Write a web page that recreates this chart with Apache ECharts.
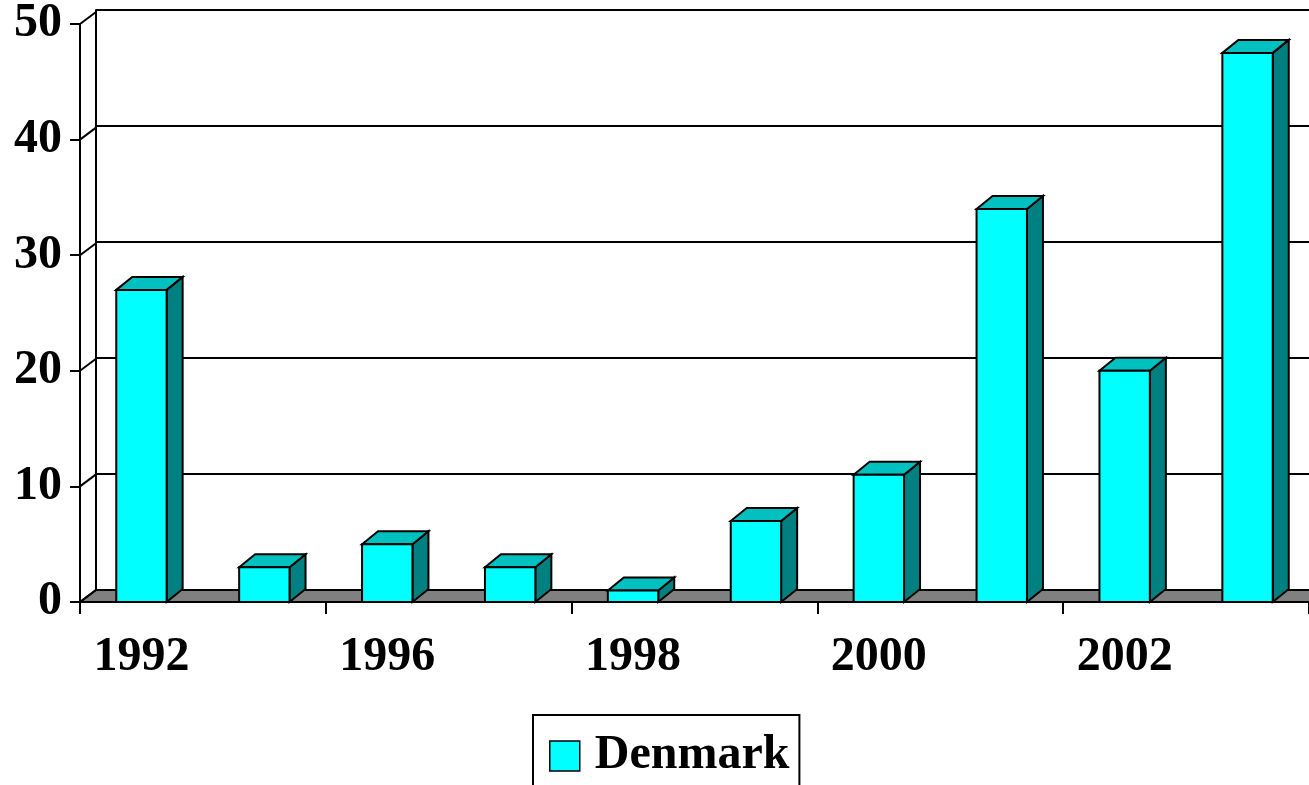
<!DOCTYPE html>
<html>
<head>
<meta charset="utf-8">
<script src="https://cdn.jsdelivr.net/npm/echarts@6/dist/echarts.min.js"></script>
<style>
html,body{margin:0;padding:0;background:#fff;}
#chart{width:1309px;height:785px;}
</style>
</head>
<body>
<div id="chart"></div>
<script>
var categories = ['1992','1994','1996','1997','1998','1999','2000','2001','2002','2003'];
var denmark = [27, 3, 5, 3, 1, 7, 11, 34, 20, 47.5];
var yTicks = [0, 10, 20, 30, 40, 50];
var seriesName = 'Denmark';

var DX = 16, DY = 12;
var FONT = 'Liberation Serif';

function renderBar(params, api) {
  var idx = api.value(0), v = api.value(1);
  var top = api.coord([idx, v]);
  var base = api.coord([idx, 0]);
  var bw = api.size([1, 0])[0] * 0.41;
  var x0 = top[0] - bw / 2, x1 = top[0] + bw / 2;
  var yt = top[1], yb = base[1];
  var dy = DY + 1;
  var stroke = {stroke: '#000', lineWidth: 2, lineJoin: 'miter'};
  return {
    type: 'group',
    children: [
      {type: 'polygon', shape: {points: [[x1, yt], [x1 + DX, yt - dy], [x1 + DX, yb - dy], [x1, yb]]},
        style: Object.assign({fill: '#008080'}, stroke)},
      {type: 'polygon', shape: {points: [[x0, yt], [x0 + DX, yt - dy], [x1 + DX, yt - dy], [x1, yt]]},
        style: Object.assign({fill: '#00C0C0'}, stroke)},
      {type: 'rect', shape: {x: x0, y: yt, width: bw, height: yb - yt},
        style: Object.assign({fill: '#00FFFF'}, stroke)}
    ]
  };
}

function renderFloor(params, api) {
  var cs = params.coordSys;
  var y0 = api.coord([0, 0])[1];
  var xl = cs.x, xr = cs.x + cs.width + 40;
  return {
    type: 'polygon',
    shape: {points: [[xl, y0], [xl + DX, y0 - DY], [xr + DX, y0 - DY], [xr, y0]]},
    style: {fill: '#808080', stroke: '#000', lineWidth: 2}
  };
}

function renderConnector(params, api) {
  var cs = params.coordSys;
  var y = api.coord([0, api.value(0)])[1];
  return {
    type: 'line',
    shape: {x1: cs.x, y1: y, x2: cs.x + DX, y2: y - DY},
    style: {stroke: '#000', lineWidth: 2}
  };
}

var chart = echarts.init(document.getElementById('chart'), null, {renderer: 'canvas'});
var option = {
  animation: false,
  backgroundColor: '#fff',
  grid: [
    {left: 80, top: 22, width: 1230, height: 580},
    {left: 96, top: 10, width: 1230, height: 580}
  ],
  xAxis: [
    {
      type: 'category', gridIndex: 0, data: categories, boundaryGap: true,
      axisLine: {show: true, lineStyle: {color: '#000', width: 2}},
      axisTick: {show: true, interval: 1, length: 12, lineStyle: {color: '#000', width: 2}},
      axisLabel: {interval: 1, color: '#000', fontFamily: FONT, fontWeight: 'bold', fontSize: 48, margin: 32}
    },
    {
      type: 'category', gridIndex: 1, data: categories, boundaryGap: true,
      axisLine: {show: false}, axisTick: {show: false}, axisLabel: {show: false}
    }
  ],
  yAxis: [
    {
      type: 'value', gridIndex: 0, min: 0, max: 50, interval: 10,
      axisLine: {show: true, lineStyle: {color: '#000', width: 2}},
      axisTick: {show: true, length: 10, lineStyle: {color: '#000', width: 2}},
      splitLine: {show: false},
      axisLabel: {color: '#000', fontFamily: FONT, fontWeight: 'bold', fontSize: 48, margin: 18, padding: [8, 0, 0, 0]}
    },
    {
      type: 'value', gridIndex: 1, min: 0, max: 50, interval: 10,
      axisLine: {show: true, lineStyle: {color: '#000', width: 2}},
      axisTick: {show: false}, axisLabel: {show: false},
      splitLine: {show: true, lineStyle: {color: '#000', width: 2}}
    }
  ],
  legend: {
    show: true,
    left: 533, top: 715,
    orient: 'horizontal',
    padding: [17, 10, 30, 16],
    borderColor: '#000', borderWidth: 2,
    itemWidth: 30, itemHeight: 30,
    icon: 'rect',
    data: [{name: seriesName, itemStyle: {color: '#00FFFF', borderColor: '#000', borderWidth: 1.5}}],
    textStyle: {color: '#000', fontFamily: FONT, fontWeight: 'bold', fontSize: 48, padding: [0, 0, 0, 10]}
  },
  series: [
    {
      type: 'custom', name: 'floor', xAxisIndex: 0, yAxisIndex: 0, z: 2,
      renderItem: renderFloor, data: [[0]], silent: true
    },
    {
      type: 'custom', name: 'connectors', xAxisIndex: 0, yAxisIndex: 0, z: 2,
      renderItem: renderConnector, data: yTicks.map(function (t) { return [t]; }),
      encode: {y: 0}, silent: true
    },
    {
      type: 'custom', name: seriesName, xAxisIndex: 0, yAxisIndex: 0, z: 3,
      itemStyle: {color: '#00FFFF', borderColor: '#000', borderWidth: 1.5},
      renderItem: renderBar,
      data: denmark.map(function (v, i) { return [i, v]; }),
      encode: {x: 0, y: 1}
    }
  ]
};
chart.setOption(option);
</script>
</body>
</html>
